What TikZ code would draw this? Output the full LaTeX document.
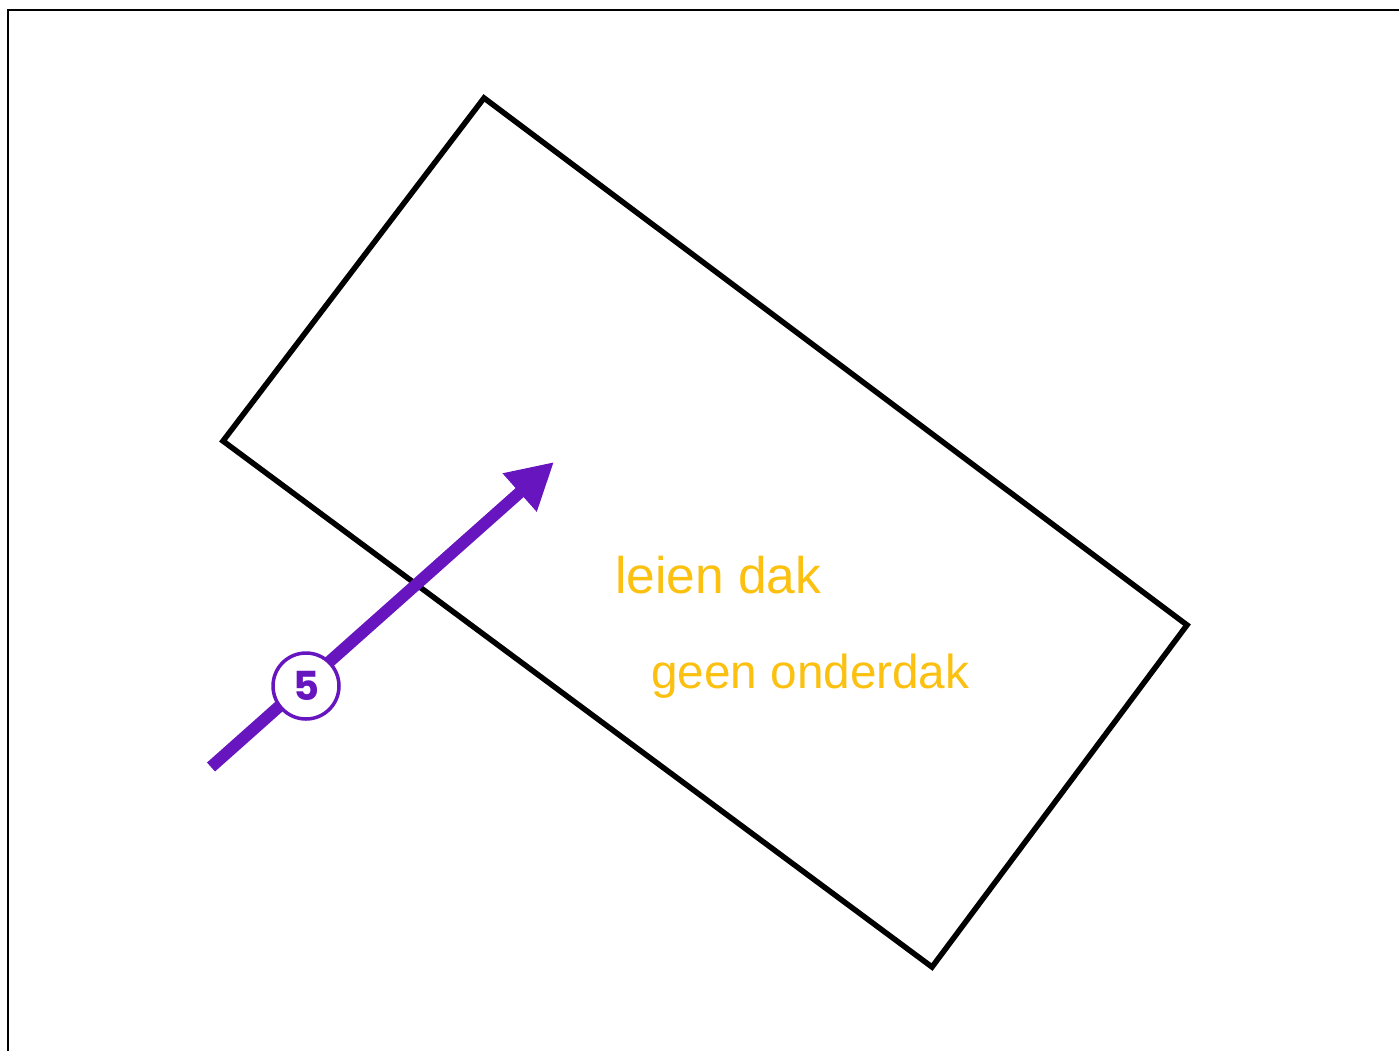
\documentclass[tikz,border=0pt]{standalone}
\usepackage{fontspec}
\setmainfont{Liberation Sans}
\newfontfamily\numfont{Poppins}
\usetikzlibrary{arrows.meta}
\definecolor{roofpurple}{HTML}{6715BF}
\definecolor{labelyellow}{HTML}{FBC010}
\tikzset{
  frameline/.style={line width=2.5pt, black},
  roofline/.style={line width=5.5pt, black, line join=miter},
  flowarrow/.style={line width=12pt, roofpurple, -{Triangle[length=46pt,width=48pt]}},
  badge/.style={circle, draw=roofpurple, line width=3.5pt, fill=white, minimum size=66pt, inner sep=0pt, text=roofpurple, font=\numfont\bfseries\fontsize{40}{40}\selectfont},
  roofnote/.style={anchor=base west, inner sep=0pt, text=labelyellow}
}
\begin{document}
\begin{tikzpicture}[x=1pt,y=-1pt]
\useasboundingbox (0,0) rectangle (1399,1050);
% frame
\coordinate (fA) at (1402,10);
\coordinate (fB) at (8,10);
\coordinate (fC) at (8,1053);
\draw[frameline] (fA) -- (fB) -- (fC);
% roof outline
\coordinate (r1) at (484,98);
\coordinate (r2) at (1187,625);
\coordinate (r3) at (932,967);
\coordinate (r4) at (223,441);
\draw[roofline] (r1) -- (r2) -- (r3) -- (r4) -- cycle;
% arrow
\coordinate (aS) at (211,767);
\coordinate (aE) at (554,462);
\draw[flowarrow] (aS) -- (aE);
\node[badge] (n5) at (306,686) {5};
% labels
\node[roofnote, font=\fontsize{51.5}{52}\selectfont] (l1) at (615,593) {leien dak};
\node[roofnote, font=\fontsize{47.7}{48}\selectfont] (l2) at (651,688) {geen onderdak};
\end{tikzpicture}
\end{document}
